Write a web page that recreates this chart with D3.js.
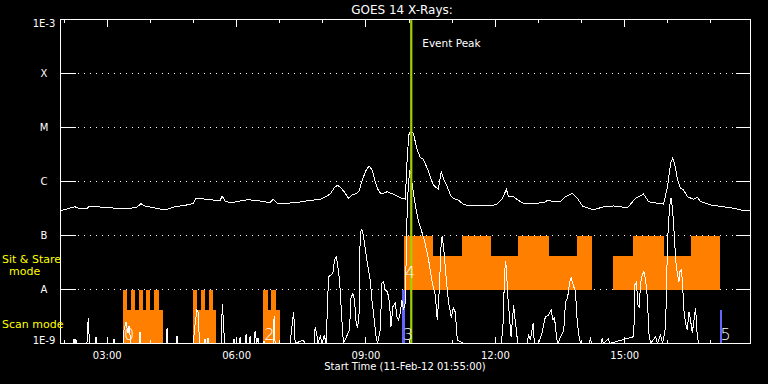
<!DOCTYPE html>
<html><head><meta charset="utf-8">
<script src="https://cdn.jsdelivr.net/npm/d3@7"></script>
<style>html,body{margin:0;padding:0;background:#000;}svg{display:block;}</style>
</head><body><svg id="c" width="768" height="384"></svg>
<script>
// ---------------- data ----------------
const startISO = "2012-02-11T01:55:00Z";
const spanHours = 16;
const titleText = "GOES 14 X-Rays:";
const xTitle = "Start Time (11-Feb-12 01:55:00)";
const levelValues = [1e-3, 1e-4, 1e-5, 1e-6, 1e-7, 1e-8, 1e-9];
const levelLabels = ["1E-3", "X", "M", "C", "B", "A", "1E-9"];

// long channel (1-8 A): minutes since start, flux W/m^2
const longMin = [0,8.9,20.1,27.0,36.8,40.9,54.8,68.8,82.7,96.7,106.4,112.0,117.6,124.5,138.4,145.4,159.3,173.3,184.4,188.6,194.2,208.1,222.0,224.8,229.0,236.0,249.9,261.0,277.7,291.7,295.8,302.8,319.5,333.5,347.4,361.3,365.5,375.2,380.8,385.0,389.1,396.1,400.3,405.9,411.4,415.6,419.8,425.3,429.5,433.7,437.9,442.0,446.2,454.6,465.7,472.7,479.7,482.4,484.6,486.6,490.8,496.4,500.6,504.7,510.3,514.5,518.7,525.6,529.8,532.6,538.2,542.3,546.5,553.5,560.5,570.2,584.1,598.1,607.8,614.8,620.4,623.2,630.1,639.9,646.8,658.0,671.9,678.9,685.8,695.6,702.5,712.3,719.2,726.2,741.5,755.4,769.4,788.9,800.0,811.2,818.2,830.7,839.0,844.6,848.8,851.6,854.4,858.5,862.7,866.9,872.5,880.8,886.4,890.6,904.5,922.6,936.6,946.3,960];
const longFlux = [2.88e-7,3.10e-7,3.41e-7,3.10e-7,3.16e-7,3.52e-7,3.37e-7,3.30e-7,3.10e-7,3.16e-7,3.37e-7,3.88e-7,3.52e-7,3.37e-7,3.10e-7,2.97e-7,3.41e-7,3.62e-7,3.91e-7,4.89e-7,4.84e-7,4.60e-7,4.41e-7,5.38e-7,4.35e-7,4.00e-7,4.35e-7,4.60e-7,4.35e-7,4.05e-7,4.74e-7,3.83e-7,4.00e-7,4.17e-7,4.49e-7,4.64e-7,4.94e-7,5.86e-7,7.58e-7,8.51e-7,7.91e-7,6.12e-7,4.89e-7,5.62e-7,6.00e-7,6.67e-7,1.07e-6,1.63e-6,1.94e-6,1.63e-6,9.79e-7,6.95e-7,5.86e-7,6.47e-7,5.62e-7,5.01e-7,4.74e-7,2.72e-6,7.26e-6,8.26e-6,7.91e-6,3.83e-6,2.76e-6,2.58e-6,1.75e-6,1.23e-6,8.61e-7,7.16e-7,1.56e-6,1.15e-6,8.02e-7,5.62e-7,4.89e-7,4.54e-7,3.78e-7,3.52e-7,3.62e-7,3.52e-7,3.83e-7,4.89e-7,7.16e-7,5.23e-7,5.23e-7,4.23e-7,3.83e-7,3.94e-7,4.05e-7,4.54e-7,4.23e-7,4.23e-7,5.23e-7,6.04e-7,4.89e-7,3.52e-7,2.97e-7,3.41e-7,3.52e-7,3.27e-7,4.89e-7,5.86e-7,4.23e-7,3.94e-7,3.83e-7,8.02e-7,2.17e-6,2.69e-6,2.17e-6,1.07e-6,7.48e-7,6.95e-7,5.23e-7,4.68e-7,5.09e-7,4.23e-7,3.67e-7,3.41e-7,3.19e-7,2.97e-7,2.84e-7];

// short channel (0.5-4 A)
const shortMin = [0,17.3,18.7,20.1,21.4,22.8,36.8,38.6,40.3,47.9,49.3,50.7,73.0,74.4,75.8,86.9,88.3,91.1,93.9,95.3,98.1,109.2,110.6,112.0,146.8,148.2,149.6,160.7,162.1,163.5,184.4,187.2,189.6,191.4,193.5,199.7,201.1,202.5,203.9,205.3,206.7,223.4,225.2,226.9,228.3,240.1,241.5,242.9,248.5,249.9,251.3,256.8,258.2,259.6,262.4,263.8,265.2,269.4,270.8,272.9,274.9,276.3,281.9,283.3,284.7,295.8,297.2,298.6,319.5,322.3,324.4,326.5,337.6,340.4,352.9,354.3,356.7,358.5,361.3,364.1,366.9,369.6,372.9,376.2,379.0,381.2,383.6,385.4,388.2,391.5,393.7,402.1,404.1,406.8,409.1,411.4,413.2,415.2,417.0,419.4,421.6,426.3,430.9,433.3,436.5,439.3,441.1,444.9,447.2,449.5,451.8,455.0,457.8,459.8,462.5,465.7,468.1,470.3,472.7,475.0,477.3,479.7,482.0,483.9,486.0,488.0,489.4,493.6,497.7,506.1,511.7,517.3,521.4,524.2,527.0,529.8,531.2,534.0,536.8,539.5,543.7,546.5,549.3,552.1,560.5,613.4,615.8,617.6,619.0,620.4,622.2,625.0,626.9,630.5,631.9,634.3,636.1,649.6,651.0,653.8,657.5,659.3,664.9,670.0,674.6,679.2,682.6,685.3,687.2,690.0,691.8,700.2,702.5,705.7,708.5,710.5,713.3,716.5,718.8,721.1,723.4,736.0,737.3,738.7,752.6,753.6,755.4,762.4,763.8,797.6,799.0,801.4,803.2,805.2,807.0,809.4,811.6,814.0,816.4,818.6,821.0,827.9,830.7,834.9,837.7,841.9,844.2,845.6,847.8,849.5,851.6,852.6,854.4,855.8,858.2,860.4,861.8,863.7,865.2,867.3,869.7,872.1,874.3,876.6,879.0,883.6,886.0,888.2,960];
const shortFlux = [1e-9,1e-9,1.21e-9,1e-9,1.21e-9,1e-9,1e-9,2.96e-9,1e-9,1e-9,1.32e-9,1e-9,1e-9,1.21e-9,1e-9,1e-9,1.78e-9,2.50e-9,1.56e-9,2.11e-9,1e-9,1e-9,1.63e-9,1e-9,1e-9,1.90e-9,1e-9,1e-9,1.38e-9,1e-9,1e-9,2.20e-9,4.17e-9,3.83e-9,1e-9,1e-9,1.21e-9,1e-9,1e-9,1.26e-9,1e-9,1e-9,5.38e-9,2.20e-9,1e-9,1e-9,1.21e-9,1e-9,1e-9,1.32e-9,1e-9,1e-9,1.50e-9,1e-9,1e-9,1.38e-9,1e-9,1e-9,1.73e-9,1e-9,1.26e-9,1e-9,1e-9,1.11e-9,1e-9,1e-9,3.23e-9,1e-9,1e-9,2.20e-9,3.88e-9,1e-9,1.16e-9,1e-9,1e-9,2.00e-9,1.44e-9,1e-9,1.38e-9,1e-9,1.44e-9,1e-9,1.73e-8,1.85e-8,2.00e-8,3.52e-8,3.94e-8,3.05e-8,1.50e-8,2.72e-9,1e-9,1.78e-9,6.87e-9,8.51e-9,6.38e-9,2.37e-9,2.05e-9,2.72e-9,1.17e-7,1.30e-7,9.51e-8,3.52e-8,1.50e-8,6.38e-9,2.72e-9,1.25e-9,1e-9,1.78e-9,1.30e-8,1.39e-8,9.79e-9,9.10e-9,5.55e-9,2.05e-9,4.80e-9,5.55e-9,3.13e-9,2.72e-9,3.62e-9,6.38e-9,4.17e-9,5.62e-9,1.94e-7,8.61e-7,1.63e-6,1.32e-6,8.61e-7,3.67e-7,1.94e-7,8.26e-8,3.83e-8,1.32e-8,7.91e-9,2.72e-9,9.79e-9,8.26e-8,9.79e-8,4.36e-8,1.50e-8,6.38e-9,2.96e-9,4.54e-9,3.83e-9,1.16e-9,1e-9,1e-9,2.40e-9,1.50e-8,3.41e-8,2.50e-8,7.91e-9,2.72e-9,1.34e-9,5.16e-9,3.13e-9,1.78e-9,1e-9,1e-9,1.50e-9,1.16e-9,2.37e-9,1e-9,1e-9,1.56e-9,3.13e-9,3.37e-9,4.17e-9,2.72e-9,3.13e-9,1.34e-9,1e-9,1.78e-9,5.62e-9,7.36e-9,1.39e-8,1.63e-8,1.21e-8,9.10e-9,2.72e-9,1.44e-9,1e-9,1e-9,1.34e-9,1e-9,1e-9,1.25e-9,1e-9,1.25e-9,1e-9,1.34e-9,1.21e-8,1.39e-8,5.16e-9,4.80e-9,1.30e-8,1.85e-8,2.14e-8,1.50e-8,7.36e-9,1.55e-9,1e-9,1.34e-9,1e-9,1.44e-9,1e-9,2.05e-9,4.68e-8,1.46e-7,3.67e-7,4.94e-7,2.97e-7,1.94e-7,8.26e-8,3.52e-8,2.02e-8,1.39e-8,2.14e-8,2.30e-8,1.50e-8,4.17e-9,2.40e-9,1.78e-9,3.88e-9,2.72e-9,1.56e-9,4.54e-9,1.34e-9,1e-9,1e-9];

// observing-mode blocks: [start, end, top flux]; base = bottom of the mode band
const scanBase = 1e-9;
const scanBlocks = [
  ["03:22","03:28",1e-8],["03:28","03:33",4.2e-9],["03:33","03:39",1e-8],["03:39","03:44",4.2e-9],
  ["03:44","03:50",1e-8],["03:50","03:54",4.2e-9],["03:54","04:00",1e-8],["04:00","04:05",4.2e-9],
  ["04:05","04:12",1e-8],["04:12","04:18",4.2e-9],
  ["04:59","05:05",1e-8],["05:05","05:10",4.2e-9],["05:10","05:16",1e-8],["05:16","05:21",4.2e-9],
  ["05:21","05:27",1e-8],["05:27","05:32",4.2e-9],
  ["06:37","06:43",1e-8],["06:43","06:48",4.2e-9],["06:48","06:55",1e-8],["06:55","07:01",4.2e-9]
];
const sitBase = 1e-8;
const sitBlocks = [
  ["09:53","10:33",1e-7],["10:33","11:13",4.2e-8],["11:13","11:54",1e-7],["11:54","12:32",4.2e-8],
  ["12:32","13:14",1e-7],["13:14","13:53",4.2e-8],["13:53","14:15",1e-7],
  ["14:43","15:12",4.2e-8],["15:12","15:54",1e-7],["15:54","16:32",4.2e-8],["16:32","17:13",1e-7]
];
const otherBlocks = [["09:50","09:54",1e-8],["17:12","17:16",4.2e-9]];
const eventLabels = [["0","03:22","scan"],["2","06:37","scan"],["3","09:50","scan"],["4","09:53","sit"],["5","17:12","scan"]];
const peakTime = "10:03";
const peakLabel = "Event Peak";
const modeLegendText = ["Sit & Stare", "mode", "Scan mode"];

// ---------------- drawing ----------------
const FONT = "DejaVu Sans, Liberation Sans, sans-serif";
const t0 = new Date(startISO);
const parseClock = s => d3.utcParse("%Y-%m-%d %H:%M")("2012-02-11 " + s);
const svg = d3.select("#c");
svg.append("rect").attr("width", 768).attr("height", 384).attr("fill", "#000");

const L = 60.5, R = 750.5, T = 19.5, B = 343.5;
const x = d3.scaleUtc().domain([t0, d3.utcHour.offset(t0, spanHours)]).range([L, R]);
const y = d3.scaleLog().domain([1e-9, 1e-3]).range([B, T]).clamp(true);

svg.append("defs").append("clipPath").attr("id", "clip")
  .append("rect").attr("x", L).attr("y", T).attr("width", R - L).attr("height", B - T);

// grid (dotted) and level ticks
const inner = levelValues.filter(v => v > 1e-9 && v < 1e-3);
svg.append("g").selectAll("line").data(inner).join("line")
  .attr("x1", 78).attr("x2", 735).attr("y1", d => y(d)).attr("y2", d => y(d))
  .attr("stroke", "#fff").attr("stroke-dasharray", "1 5").attr("shape-rendering", "crispEdges");
const lt = svg.append("g").attr("stroke", "#fff").attr("shape-rendering", "crispEdges");
inner.forEach(v => {
  lt.append("line").attr("x1", L).attr("x2", L + 15).attr("y1", y(v)).attr("y2", y(v));
  lt.append("line").attr("x1", R - 15).attr("x2", R).attr("y1", y(v)).attr("y2", y(v));
});

// mode blocks
const plot = svg.append("g").attr("clip-path", "url(#clip)");
function blocks(data, base, color) {
  plot.append("g").selectAll("rect").data(data).join("rect")
    .attr("x", d => x(parseClock(d[0])))
    .attr("width", d => x(parseClock(d[1])) - x(parseClock(d[0])))
    .attr("y", d => y(d[2]))
    .attr("height", d => y(base) - y(d[2]))
    .attr("fill", color).attr("shape-rendering", "crispEdges");
}
blocks(scanBlocks, scanBase, "#ff8000");
blocks(sitBlocks, sitBase, "#ff8000");
blocks(otherBlocks, scanBase, "#6464ff");

// curves
const mk = (mins, flux) => mins.map((m, i) => ({ t: new Date(+t0 + m * 60000), f: flux[i] }));
const line = d3.line().x(d => x(d.t)).y(d => y(d.f));
plot.append("path").datum(mk(shortMin, shortFlux)).attr("d", line)
  .attr("fill", "none").attr("stroke", "#fff").attr("stroke-width", 1).attr("shape-rendering", "crispEdges");
plot.append("path").datum(mk(longMin, longFlux)).attr("d", line)
  .attr("fill", "none").attr("stroke", "#fff").attr("stroke-width", 1).attr("shape-rendering", "crispEdges");

// event peak
const pk = parseClock(peakTime);
svg.append("line").attr("x1", x(pk)).attr("x2", x(pk)).attr("y1", T).attr("y2", B)
  .attr("stroke", "#a0d000").attr("stroke-width", 2.2);
svg.append("text").attr("x", x(pk) + 11).attr("y", 46.5).text(peakLabel)
  .attr("fill", "#fff").attr("font-family", FONT).attr("font-size", 10.5);

// event numbers
svg.append("g").selectAll("text").data(eventLabels).join("text")
  .attr("x", d => x(parseClock(d[1])) + 1)
  .attr("y", d => d[2] === "scan" ? y(scanBase) - 3.5 : y(sitBase) - 12)
  .text(d => d[0]).attr("fill", "#fff").attr("font-family", FONT)
  .attr("font-size", 16).attr("font-weight", 200);

// frame
svg.append("rect").attr("x", L).attr("y", T).attr("width", R - L).attr("height", B - T)
  .attr("fill", "none").attr("stroke", "#fff").attr("shape-rendering", "crispEdges");

// time ticks (top and bottom)
const hours = d3.utcHour.every(1).range(t0, d3.utcHour.offset(t0, spanHours));
const majors = hours.filter(h => h.getUTCHours() % 3 === 0);
const tk = svg.append("g").attr("stroke", "#fff").attr("shape-rendering", "crispEdges");
hours.forEach(h => {
  const len = h.getUTCHours() % 3 === 0 ? 7 : 3.5;
  tk.append("line").attr("x1", x(h)).attr("x2", x(h)).attr("y1", T).attr("y2", T + len);
  tk.append("line").attr("x1", x(h)).attr("x2", x(h)).attr("y1", B).attr("y2", B - len);
});
svg.append("g").selectAll("text").data(majors).join("text")
  .attr("x", d => x(d)).attr("y", 358.5).attr("text-anchor", "middle")
  .text(d3.utcFormat("%H:%M")).attr("fill", "#fff").attr("font-family", FONT).attr("font-size", 10);

// y level labels
svg.append("g").selectAll("text").data(levelValues).join("text")
  .attr("x", 44).attr("text-anchor", "middle")
  .attr("y", d => Math.min(Math.max(y(d) + 3.7, T + 7.5), B))
  .text((d, i) => levelLabels[i]).attr("fill", "#fff").attr("font-family", FONT).attr("font-size", 10);

// titles
svg.append("text").attr("x", 402).attr("y", 14).attr("text-anchor", "middle").text(titleText)
  .attr("fill", "#fff").attr("font-family", FONT).attr("font-size", 12);
svg.append("text").attr("x", 405).attr("y", 370).attr("text-anchor", "middle").text(xTitle)
  .attr("fill", "#fff").attr("font-family", FONT).attr("font-size", 10);

// mode legend (left margin)
const legendPos = [[2, 262.5], [9, 274.5], [2, 327.5]];
svg.append("g").selectAll("text").data(modeLegendText).join("text")
  .attr("x", (d, i) => legendPos[i][0]).attr("y", (d, i) => legendPos[i][1])
  .text(d => d)
  .attr("fill", "#ffff00").attr("font-family", FONT).attr("font-size", 11);
</script></body></html>
